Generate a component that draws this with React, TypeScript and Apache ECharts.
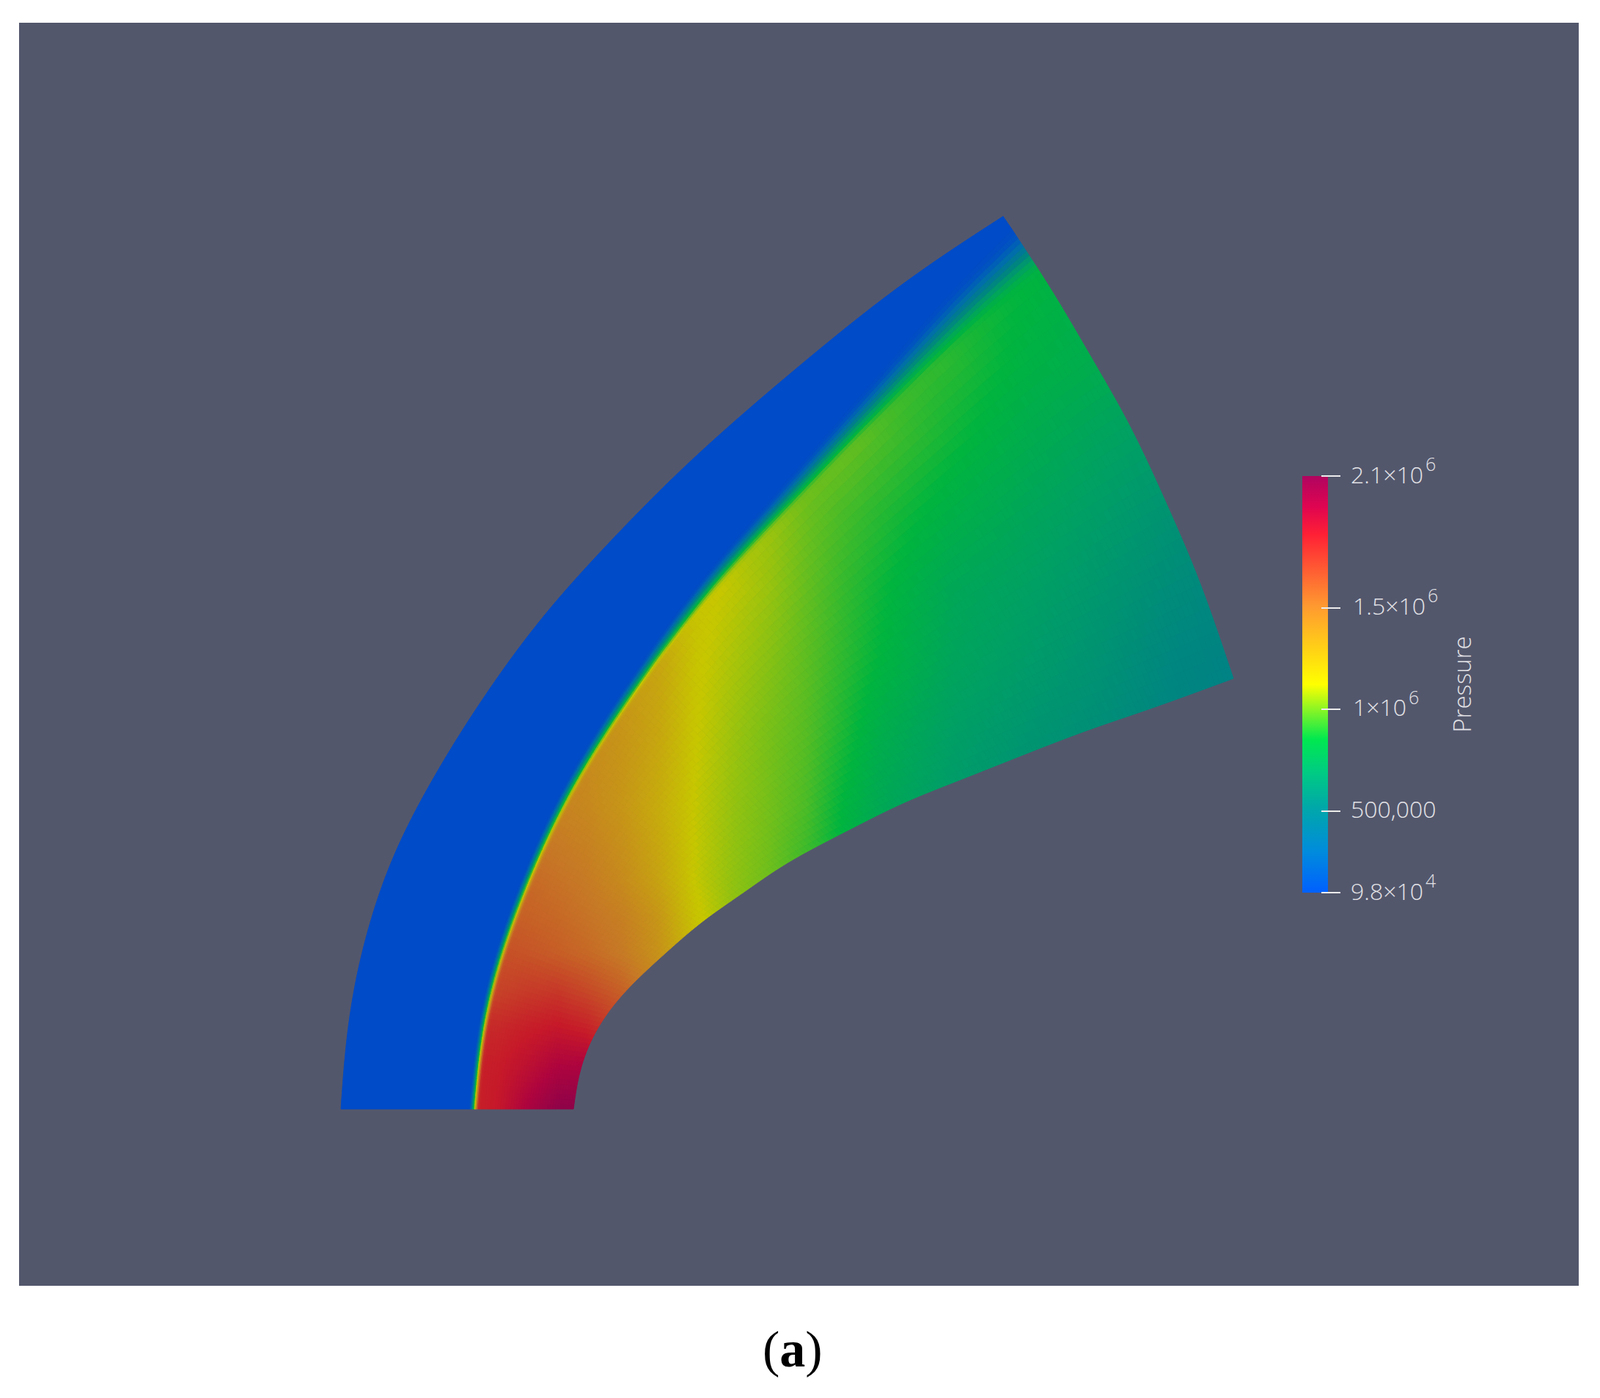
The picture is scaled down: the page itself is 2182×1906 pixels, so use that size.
import React, { useEffect, useRef } from "react";
import * as echarts from "echarts";

// Mesh boundaries, in the chart's x / y domain units
const OUTER_X = [465, 470, 480, 494, 532, 580, 607, 637, 680, 730, 780, 837, 914, 990, 1050, 1113, 1163, 1258, 1368];
const OUTER_Y = [1512, 1423, 1347, 1290, 1167, 1080, 1030, 983, 920, 850, 793, 733, 653, 584, 532, 480, 438, 366, 295];
const SHOCK_X = [647, 653, 667, 681, 708, 731, 763, 793, 820, 847, 870, 900, 930, 960, 1005, 1050, 1083, 1117, 1150, 1183, 1217, 1257, 1320, 1400];
const SHOCK_Y = [1512, 1407, 1350, 1297, 1227, 1170, 1097, 1043, 1003, 963, 927, 887, 843, 800, 752, 707, 670, 627, 597, 560, 523, 483, 413, 343];
const SHOCK_WIDTH = [14, 14, 15, 16, 17, 18, 19, 20, 20, 21, 22, 23, 24, 25, 27, 29, 32, 35, 38, 42, 46, 50, 60, 70];
const INNER_X = [782, 785, 798, 820, 840, 873, 907, 963, 1007, 1060, 1127, 1180, 1233, 1300, 1470, 1567, 1682];
const INNER_Y = [1512, 1477, 1430, 1390, 1363, 1330, 1300, 1250, 1223, 1183, 1147, 1120, 1093, 1067, 1000, 967, 925];
const EDGE_X = [1400, 1413, 1457, 1495, 1533, 1567, 1583, 1633, 1682];
const EDGE_Y = [343, 360, 433, 500, 563, 633, 670, 783, 925];

const TABLE_X = [640, 680, 720, 760, 800, 850, 900, 950, 1000, 1050, 1100, 1150, 1200, 1300, 1400, 1500, 1600, 1700];
const TABLE_Y = [300, 400, 500, 600, 700, 800, 900, 1000, 1100, 1200, 1250, 1300, 1350, 1400, 1450, 1512];
const PRESSURE_KPA = [
  [950, 950, 950, 950, 950, 950, 950, 950, 950, 950, 950, 950, 940, 920, 860, 810, 760, 720],
  [960, 960, 960, 960, 960, 960, 960, 960, 960, 960, 960, 960, 950, 900, 850, 795, 740, 690],
  [980, 980, 980, 980, 980, 980, 980, 980, 980, 980, 980, 980, 960, 905, 830, 785, 715, 665],
  [1040, 1040, 1040, 1040, 1040, 1040, 1040, 1040, 1040, 1040, 1025, 1005, 955, 870, 790, 725, 665, 615],
  [1090, 1090, 1090, 1090, 1090, 1090, 1090, 1090, 1090, 1065, 1000, 950, 905, 815, 745, 680, 615, 575],
  [1230, 1230, 1230, 1230, 1230, 1230, 1230, 1150, 1110, 1060, 990, 925, 870, 755, 705, 645, 575, 530],
  [1380, 1380, 1380, 1380, 1380, 1350, 1290, 1135, 1085, 1035, 980, 915, 850, 735, 675, 615, 540, 510],
  [1430, 1430, 1430, 1430, 1410, 1365, 1280, 1125, 1065, 1015, 970, 890, 800, 695, 635, 585, 530, 500],
  [1480, 1480, 1480, 1460, 1430, 1360, 1250, 1115, 1055, 1010, 955, 850, 765, 665, 600, 550, 510, 490],
  [1590, 1590, 1565, 1530, 1495, 1415, 1295, 1115, 1050, 1000, 925, 830, 750, 640, 590, 540, 500, 480],
  [1620, 1610, 1590, 1565, 1525, 1470, 1355, 1140, 1050, 985, 900, 815, 740, 640, 590, 540, 500, 480],
  [1670, 1660, 1640, 1605, 1565, 1495, 1375, 1175, 1060, 970, 890, 810, 740, 640, 590, 540, 500, 480],
  [1710, 1705, 1735, 1745, 1685, 1590, 1430, 1200, 1060, 970, 890, 810, 740, 640, 590, 540, 500, 480],
  [1790, 1805, 1840, 1870, 1830, 1690, 1500, 1250, 1060, 970, 890, 810, 740, 640, 590, 540, 500, 480],
  [1840, 1850, 1910, 1985, 1995, 1800, 1500, 1250, 1060, 970, 890, 810, 740, 640, 590, 540, 500, 480],
  [1820, 1870, 2010, 2120, 2140, 1800, 1500, 1250, 1060, 970, 890, 810, 740, 640, 590, 540, 500, 480],
];
const FREE_STREAM_KPA = 98;

// Colour bar
const COLOR_T = [0, 0.1, 0.206, 0.29, 0.368, 0.5, 0.687, 0.86, 0.925, 1];
const COLOR_HEX = ["#0060ff", "#008cdc", "#00a8a8", "#00cc82", "#00e850", "#ffff00", "#ff9a30", "#ff2035", "#e00550", "#b00460"];
const BAR_MIN = 98000;
const BAR_MAX = 2147000;
const TICK_VALUES = [98000, 500000, 1000000, 1500000, 2147000];
const TICK_LABELS = ["{a|9.8×10}{g|}{s|4}", "{a|500,000}", "{i|1×10}{g|}{s|6}", "{i|1.5×10}{g|}{s|6}", "{a|2.1×10}{g|}{s|6}"];
const FIELD_SHADE = 0.78;

type Pt = number[];
const zip = (...cols: number[][]): Pt[] => cols[0].map((_, i) => cols.map((c) => c[i]));

function spline(pts: Pt[], n: number): Pt[] {
  const out: Pt[] = [];
  for (let i = 0; i < pts.length - 1; i++) {
    const p0 = pts[Math.max(0, i - 1)], p1 = pts[i], p2 = pts[i + 1], p3 = pts[Math.min(pts.length - 1, i + 2)];
    for (let k = 0; k < n; k++) {
      const t = k / n;
      out.push(p1.map((_, d) =>
        0.5 * (2 * p1[d] + (p2[d] - p0[d]) * t + (2 * p0[d] - 5 * p1[d] + 4 * p2[d] - p3[d]) * t * t + (3 * p1[d] - p0[d] - 3 * p2[d] + p3[d]) * t * t * t)));
    }
  }
  out.push(pts[pts.length - 1].slice());
  return out;
}

function arcSampler(poly: Pt[]) {
  const L = [0];
  for (let i = 1; i < poly.length; i++) L.push(L[i - 1] + Math.hypot(poly[i][0] - poly[i - 1][0], poly[i][1] - poly[i - 1][1]));
  const total = L[L.length - 1];
  const at = (f: number): Pt => {
    const d = Math.min(1, Math.max(0, f)) * total;
    let lo = 0, hi = L.length - 1;
    while (hi - lo > 1) { const m = (lo + hi) >> 1; if (L[m] <= d) lo = m; else hi = m; }
    const t = (d - L[lo]) / Math.max(1e-9, L[hi] - L[lo]);
    return poly[lo].map((v, k) => v + (poly[hi][k] - v) * t);
  };
  return { at, total };
}

// Fair a boundary read by eye: resample evenly, then relax it with its ends held
function faired(pts: Pt[], iterations: number): Pt[] {
  const a = arcSampler(spline(pts, 10));
  const n = Math.max(8, Math.round(a.total / 5));
  let p: Pt[] = [];
  for (let i = 0; i <= n; i++) p.push(a.at(i / n));
  for (let it = 0; it < iterations; it++) {
    const q = p.map((v) => v.slice());
    for (let i = 1; i < n; i++) q[i] = p[i].map((v, k) => v + 0.5 * ((p[i - 1][k] + p[i + 1][k]) / 2 - v));
    p = q;
  }
  return p;
}

function tableValue(x: number, y: number): number {
  const find = (arr: number[], v: number) => {
    let i = 0;
    while (i < arr.length - 2 && v > arr[i + 1]) i++;
    return [i, Math.min(1, Math.max(0, (v - arr[i]) / (arr[i + 1] - arr[i])))];
  };
  const [i, a] = find(TABLE_X, x);
  const [j, b] = find(TABLE_Y, y);
  const r0 = PRESSURE_KPA[j], r1 = PRESSURE_KPA[j + 1];
  return (r0[i] * (1 - a) + r0[i + 1] * a) * (1 - b) + (r1[i] * (1 - a) + r1[i + 1] * a) * b;
}

const RGB = COLOR_HEX.map((h) => [1, 3, 5].map((k) => parseInt(h.slice(k, k + 2), 16)));
function fieldColor(kpa: number): string {
  const t = Math.min(1, Math.max(0, (kpa * 1000 - BAR_MIN) / (BAR_MAX - BAR_MIN)));
  let i = 0;
  while (i < COLOR_T.length - 2 && t > COLOR_T[i + 1]) i++;
  const f = (t - COLOR_T[i]) / (COLOR_T[i + 1] - COLOR_T[i]);
  const c = RGB[i].map((v, k) => Math.round((v + (RGB[i + 1][k] - v) * f) * FIELD_SHADE));
  return `rgb(${c[0]},${c[1]},${c[2]})`;
}

type Cell = { poly: Pt[]; color: string };
function buildField() {
  const shockAt = arcSampler(faired(zip(SHOCK_X, SHOCK_Y, SHOCK_WIDTH), 500)).at;
  const innerAt = arcSampler(faired(zip(INNER_X, INNER_Y), 100)).at;
  const edgeAt = arcSampler(faired(zip(EDGE_X, EDGE_Y), 200)).at;
  const outer = faired(zip(OUTER_X, OUTER_Y), 400);
  const NS = 170, NU = 36, NW = 10;
  const E0 = [EDGE_X[0], EDGE_Y[0]], E1 = [EDGE_X[EDGE_X.length - 1], EDGE_Y[EDGE_Y.length - 1]];
  const P = (s: number, u: number): Pt => {
    const S = shockAt(s), I = innerAt(s), R = edgeAt(u);
    const w = s * s * s;
    return [0, 1].map((d) => S[d] + (I[d] - S[d]) * u + w * (R[d] - (E0[d] + (E1[d] - E0[d]) * u)));
  };
  const cells: Cell[] = [];
  const columns: { up: Pt[]; post: Pt[] }[] = [];
  for (let a = 0; a <= NS; a++) {
    const s = a / NS;
    const S = shockAt(s), T = S[2];
    const q = P(s, 0.02), p0 = P(s, 0);
    const len = Math.hypot(q[0] - p0[0], q[1] - p0[1]);
    const dir = [(q[0] - p0[0]) / len, (q[1] - p0[1]) / len];
    const span = Math.hypot(innerAt(s)[0] - S[0], innerAt(s)[1] - S[1]);
    const u0 = (T / 2) / span;
    const post: Pt[] = [];
    for (let b = 0; b <= NU; b++) {
      const u = u0 + (1 - u0) * (b / NU);
      const pt = P(s, u);
      post.push([pt[0], pt[1], tableValue(pt[0], pt[1])]);
    }
    const behind = post[0][2];
    const up: Pt[] = [];
    for (let b = 0; b <= NW; b++) {
      const w = b / NW;
      const sm = w * w * (3 - 2 * w);
      up.push([p0[0] + dir[0] * T * (w - 0.5), p0[1] + dir[1] * T * (w - 0.5), FREE_STREAM_KPA + (behind - FREE_STREAM_KPA) * sm]);
    }
    up[NW] = post[0];
    columns.push({ up, post });
  }
  const addQuads = (A: Pt[], B: Pt[]) => {
    for (let b = 0; b < A.length - 1; b++) {
      const v = (A[b][2] + A[b + 1][2] + B[b][2] + B[b + 1][2]) / 4;
      cells.push({ poly: [A[b], B[b], B[b + 1], A[b + 1]], color: fieldColor(v) });
    }
  };
  for (let a = 0; a < NS; a++) {
    addQuads(columns[a].post, columns[a + 1].post);
    addQuads(columns[a].up, columns[a + 1].up);
  }
  const front = columns.map((c) => c.up[0]);
  const band: Pt[] = [...outer, ...front.slice().reverse()];
  cells.unshift({ poly: band, color: fieldColor(FREE_STREAM_KPA) });
  return cells;
}

export default function App() {
  const ref = useRef<HTMLDivElement>(null);
  useEffect(() => {
    const chart = echarts.init(ref.current!, undefined, { renderer: "svg" });
    const cells = buildField();
    const labelFont = { fontFamily: "Open Sans", fontWeight: 300, color: "#e2e2e6" };
    chart.setOption({
      animation: false,
      backgroundColor: "#ffffff",
      title: {
        text: "{p|(}{b|a}{p|)}",
        left: 1035,
        top: 1794,
        textStyle: {
          fontWeight: "normal",
          rich: {
            p: { fontFamily: "Liberation Serif", fontSize: 70, fontWeight: "normal", color: "#000", lineHeight: 80 },
            b: { fontFamily: "Liberation Serif", fontSize: 70, fontWeight: "bold", color: "#000", lineHeight: 80 },
          },
        },
      },
      grid: [
        { left: 26, top: 31, width: 2127, height: 1722, show: true, backgroundColor: "#53576c", borderWidth: 0 },
        { left: 1776, top: 649, width: 26, height: 568, show: false },
      ],
      xAxis: [
        { gridIndex: 0, type: "value", min: 26, max: 2153, show: false },
        { gridIndex: 1, type: "value", min: 0, max: 1, show: false },
      ],
      yAxis: [
        { gridIndex: 0, type: "value", min: 31, max: 1753, inverse: true, show: false },
        {
          gridIndex: 1,
          type: "value",
          position: "right",
          min: BAR_MIN,
          max: BAR_MAX,
          z: 5,
          name: "Pressure",
          nameLocation: "middle",
          nameRotate: 90,
          nameGap: 175,
          nameTextStyle: { ...labelFont, fontSize: 33 },
          splitLine: { show: false },
          axisLine: { show: false, onZero: false },
          axisTick: { show: true, length: 26, customValues: TICK_VALUES, lineStyle: { color: "#ececec", width: 2 } },
          axisLabel: {
            show: true,
            margin: 40,
            customValues: TICK_VALUES,
            hideOverlap: false,
            showMinLabel: true,
            showMaxLabel: true,
            padding: [0, 0, 6, 0],
            formatter: (v: number) => TICK_LABELS[TICK_VALUES.indexOf(v)],
            rich: {
              a: { ...labelFont, fontSize: 32, lineHeight: 32 },
              i: { ...labelFont, fontSize: 32, lineHeight: 32, padding: [0, 0, 0, 3] },
              g: { fontSize: 6, width: 3 },
              s: { ...labelFont, fontSize: 25, lineHeight: 25, padding: [0, 0, 28, 0] },
            },
          },
        },
      ],
      series: [
        {
          type: "custom",
          xAxisIndex: 0,
          yAxisIndex: 0,
          silent: true,
          clip: false,
          coordinateSystem: "cartesian2d",
          encode: { x: 0, y: 1 },
          data: cells.map((c) => [c.poly[0][0], c.poly[0][1]]),
          renderItem: (params: any, api: any) => {
            const c = cells[params.dataIndex];
            return {
              type: "polygon",
              shape: { points: c.poly.map((p) => api.coord([p[0], p[1]])) },
              style: { fill: c.color, stroke: c.color, lineWidth: 1 },
            };
          },
        },
        {
          type: "custom",
          xAxisIndex: 1,
          yAxisIndex: 1,
          silent: true,
          clip: false,
          z: 1,
          coordinateSystem: "cartesian2d",
          encode: { x: 0, y: 1 },
          data: [[0, BAR_MIN, BAR_MAX]],
          renderItem: (_: any, api: any) => {
            const lo = api.coord([0, api.value(1)]);
            const hi = api.coord([0, api.value(2)]);
            return {
              type: "rect",
              shape: { x: lo[0], y: hi[1], width: 35, height: lo[1] - hi[1] },
              style: {
                fill: new echarts.graphic.LinearGradient(0, 1, 0, 0,
                  COLOR_T.map((t, i) => ({ offset: t, color: COLOR_HEX[i] }))),
              },
            };
          },
        },
      ],
    });
    return () => chart.dispose();
  }, []);
  return <div ref={ref} style={{ position: "absolute", left: 0, top: 0, width: 2182, height: 1906 }} />;
}
